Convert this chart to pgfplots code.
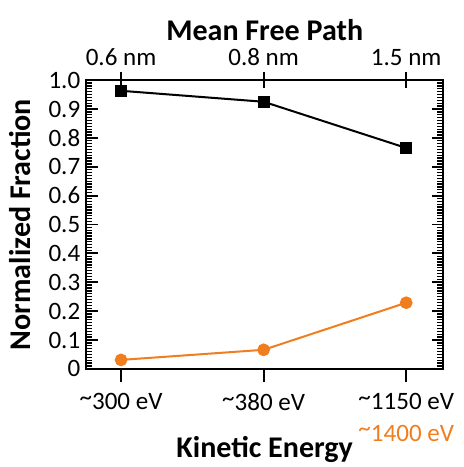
\documentclass[border=0pt]{standalone}
\usepackage{pgfplots}
\pgfplotsset{compat=1.18}
\usepackage{fontspec}
\setmainfont{Carlito}
\definecolor{kinorange}{RGB}{240,125,30}
\newcommand{\tickfont}{\fontsize{15}{17}\selectfont}
\newcommand{\labfont}{\fontsize{18}{21}\selectfont\bfseries}
\newcommand{\tl}{\raisebox{0.35ex}{\textasciitilde}}

\begin{document}
\begin{tikzpicture}
\path[use as bounding box] (-51.6pt,-58.8pt) rectangle (226pt,221pt);
\pgfplotsset{
  common/.style={
    scale only axis, width=214pt, height=173pt,
    xmin=-0.245, xmax=2.26, ymin=0, ymax=1,
    axis line style={line width=1.2pt},
    major tick style={black, line width=1.1pt},
    minor tick style={black, line width=0.8pt},
    tick label style={font=\tickfont},
  },
}
% main box with data and y ticks
\begin{axis}[
  common,
  xtick=\empty,
  tick align=inside,
  ytick pos=both,
  ytick={0,0.1,0.2,0.3,0.4,0.5,0.6,0.7,0.8,0.9,1.0},
  yticklabels={0,0.1,0.2,0.3,0.4,0.5,0.6,0.7,0.8,0.9,1.0},
  minor y tick num=9,
  major tick length=7pt,
  minor tick length=3.6pt,
  ylabel={Normalized Fraction},
  ylabel style={font=\labfont, at={(axis description cs:-0.185,0.5)}, anchor=center},
  xlabel={Kinetic Energy},
  xlabel style={font=\labfont, inner sep=0pt, at={(axis description cs:0.5,-0.308)}, anchor=base},
  clip=false,
]
\addplot[black, line width=1.2pt, mark=square*, mark size=3pt] coordinates {
  (0,0.963) (1,0.925) (2,0.765)
};
\addplot[kinorange, line width=1.2pt, mark=*, mark size=3.2pt] coordinates {
  (0,0.031) (1,0.066) (2,0.229)
};
\node[kinorange, font=\tickfont, anchor=center] at (axis cs:2,0) [yshift=-38.5pt] {\tl1400 eV};
\end{axis}
% bottom category ticks
\begin{axis}[
  common,
  axis x line*=bottom, hide y axis,
  axis line style={-, line width=1.2pt},
  tick align=outside,
  major tick length=8pt,
  xtick={0,1,2},
  xticklabels={\tl300 eV,\tl380 eV,\tl1150 eV},
  xticklabel style={yshift=-3pt},
]
\end{axis}
% top mean free path ticks
\begin{axis}[
  common,
  axis x line*=top, hide y axis,
  axis line style={-, line width=1.2pt},
  tick align=center,
  major tick length=10pt,
  xtick={0,1,2},
  xticklabels={0.6 nm,0.8 nm,1.5 nm},
  xlabel={Mean Free Path},
  xlabel style={font=\labfont, inner sep=0pt, at={(axis description cs:0.5,1.136)}, anchor=base},
]
\end{axis}
\end{tikzpicture}
\end{document}
